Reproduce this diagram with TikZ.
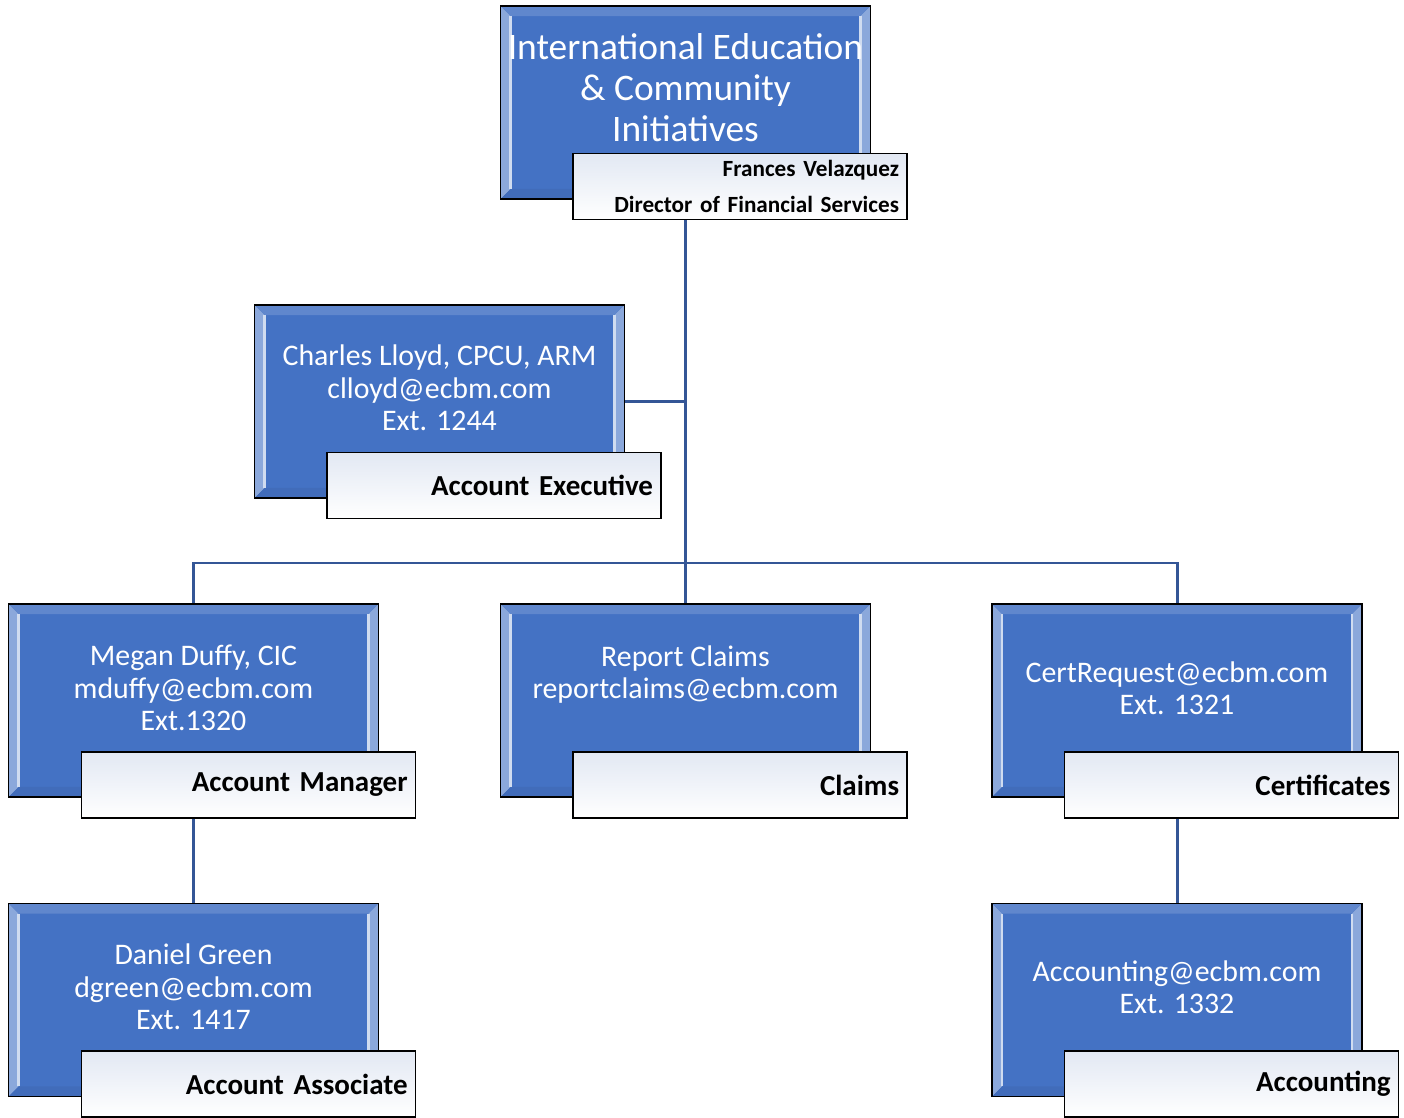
\documentclass[tikz,border=0pt]{standalone}
\usepackage{fontspec}
\setmainfont{Carlito}
\usetikzlibrary{calc}
\definecolor{unitblue}{RGB}{68,114,196}
\definecolor{linkblue}{RGB}{52,86,150}
\definecolor{tagtop}{RGB}{226,232,243}

\begin{document}
\begin{tikzpicture}[x=0.02cm,y=-0.02cm,
  unit/.style={rectangle,draw=black,line width=1pt,fill=unitblue,
    minimum width=7.4cm,minimum height=3.86cm,inner sep=0pt,
    path picture={
      \fill[unitblue!62!white] let \p1=(path picture bounding box.south west),
        \p2=(path picture bounding box.north east) in
        (\x1,\y1) -- (\x1,\y2) -- (\x1+0.2cm,\y2-0.2cm) -- (\x1+0.2cm,\y1+0.2cm) -- cycle
        (\x2,\y1) -- (\x2,\y2) -- (\x2-0.2cm,\y2-0.2cm) -- (\x2-0.2cm,\y1+0.2cm) -- cycle;
      \fill[unitblue!85!white] let \p1=(path picture bounding box.south west),
        \p2=(path picture bounding box.north east) in
        (\x1,\y2) -- (\x2,\y2) -- (\x2-0.2cm,\y2-0.2cm) -- (\x1+0.2cm,\y2-0.2cm) -- cycle;
      \fill[unitblue!95!black] let \p1=(path picture bounding box.south west),
        \p2=(path picture bounding box.north east) in
        (\x1,\y1) -- (\x2,\y1) -- (\x2-0.2cm,\y1+0.2cm) -- (\x1+0.2cm,\y1+0.2cm) -- cycle;
      \draw[white!75!unitblue,line width=1.2pt] let \p1=(path picture bounding box.south west),
        \p2=(path picture bounding box.north east) in
        (\x1+0.2cm,\y2-0.2cm) -- (\x1+0.2cm,\y1+0.2cm)
        (\x2-0.2cm,\y2-0.2cm) -- (\x2-0.2cm,\y1+0.2cm);
    }},
  unittxt/.style={text=white,align=center,font=\fontsize{17}{18.4}\selectfont},
  tag/.style={rectangle,draw=black,line width=1pt,top color=tagtop,bottom color=white,
    minimum width=6.68cm,minimum height=1.32cm,inner xsep=4.5pt,
    text width=6.68cm-9pt,align=right,font=\bfseries\fontsize{16.5}{18}\selectfont},
  link/.style={draw=linkblue,line width=1.7pt}]
  \useasboundingbox (0,0) rectangle (1404,1118);

  % top unit
  \node[unit] (ceo) at (685.5,102.5) {};
  \node[unittxt,font=\fontsize{21.3}{23.3}\selectfont] (ceo-t) at (685.5,88)
    {International Education\\ \& Community\\ Initiatives};
  \node[tag,font=\bfseries\fontsize{13.2}{20.5}\selectfont] (ceotag) at (740,186.5)
    {Frances Velazquez\\ Director of Financial Services};

  % assistant
  \node[unit] (lloyd) at (439.5,401.5) {};
  \node[unittxt] (lloyd-t) at (439.5,388) {Charles Lloyd, CPCU, ARM\\ clloyd@ecbm.com\\ Ext. 1244};
  \node[tag] (lloydtag) at (494,485.5) {Account Executive};

  % second row
  \node[unit] (duffy) at (193.5,700.5) {};
  \node[unittxt] (duffy-t) at (193.5,688) {Megan Duffy, CIC\\ mduffy@ecbm.com\\ Ext.1320};
  \node[tag] (duffytag) at (248.5,785) {Account Manager};

  \node[unit] (claims) at (685.5,700.5) {};
  \node[unittxt] (claims-t) at (685.5,688) {Report Claims\\ reportclaims@ecbm.com\\ \mbox{}};
  \node[tag] (claimstag) at (740,785) {Claims};

  \node[unit] (cert) at (1177,700.5) {};
  \node[unittxt] (cert-t) at (1177,688) {CertRequest@ecbm.com\\ Ext. 1321};
  \node[tag] (certtag) at (1231.5,785) {Certificates};

  % third row
  \node[unit] (green) at (193.5,1000) {};
  \node[unittxt] (green-t) at (193.5,987) {Daniel Green\\ dgreen@ecbm.com\\ Ext. 1417};
  \node[tag] (greentag) at (248.5,1084) {Account Associate};

  \node[unit] (acct) at (1177,1000) {};
  \node[unittxt] (acct-t) at (1177,987) {Accounting@ecbm.com\\ Ext. 1332};
  \node[tag] (accttag) at (1231.5,1084) {Accounting};

  % connectors
  \coordinate (bus) at (685.5,563);
  \draw[link] (ceo.south |- ceotag.south) -- (claims.north);
  \draw[link] (lloyd.east) -- (lloyd.east -| ceo.south);
  \draw[link] (duffy.north) -- (duffy.north |- bus) -- (cert.north |- bus) -- (cert.north);
  \draw[link] (duffy.south |- duffytag.south) -- (green.north);
  \draw[link] (cert.south |- certtag.south) -- (acct.north);
\end{tikzpicture}
\end{document}
